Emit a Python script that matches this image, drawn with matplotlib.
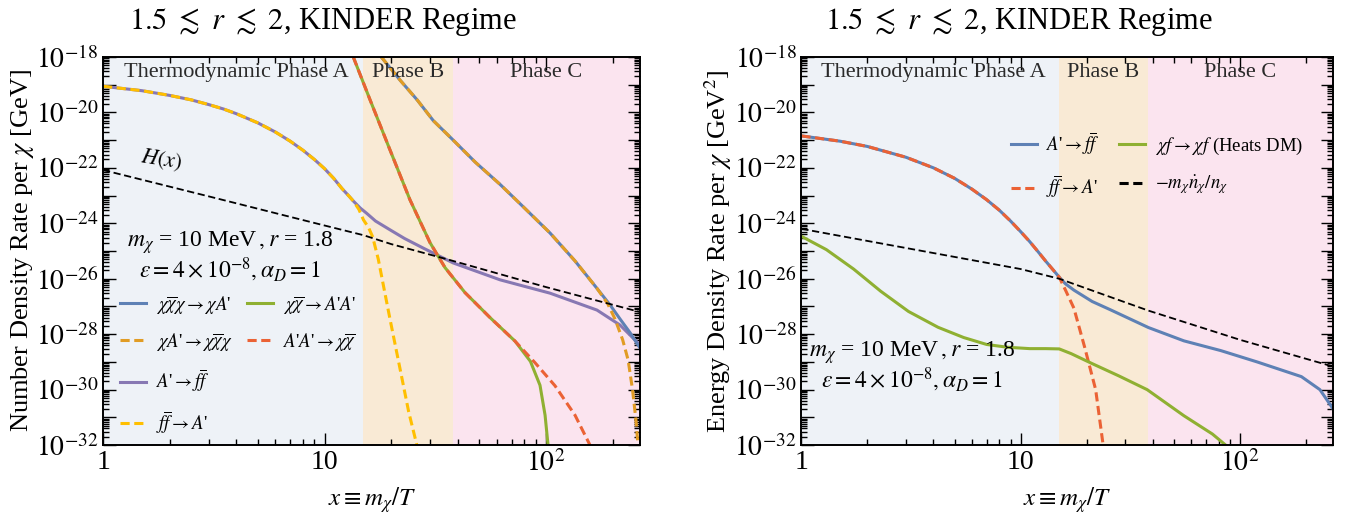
import numpy as np
import matplotlib
matplotlib.use("Agg")
import matplotlib.pyplot as plt
from matplotlib.lines import Line2D

plt.rcParams['font.family'] = ['Liberation Serif', 'DejaVu Serif']
plt.rcParams['mathtext.fontset'] = 'stix'

# ---- data (log10 of rate) ----
# left panel: number density rates
x_purple = [1, 1.5, 2, 2.5, 3, 3.5, 4, 5, 6, 7, 8, 9, 10, 11, 12, 13, 13.5, 14.5, 15.5, 17, 19.8,
            23, 28, 38.1, 62.1, 104.3, 170, 216, 266]
y_purple = [-19.06, -19.22, -19.39, -19.55, -19.72, -19.88, -20.05, -20.38, -20.71, -21.04, -21.37,
            -21.7, -22.03, -22.38, -22.75, -23.05, -23.2, -23.45, -23.64, -23.92, -24.24,
            -24.55, -24.9, -25.43, -26.04, -26.52, -27.13, -27.67, -28.39]
x_yellow = [1, 1.5, 2, 2.5, 3, 3.5, 4, 5, 6, 7, 8, 9, 10, 11, 12, 13, 13.5, 14.3, 15, 15.8, 16.5,
            17.5, 18.5, 19.8, 22, 24, 26.5]
y_yellow = [-19.06, -19.22, -19.39, -19.55, -19.72, -19.88, -20.05, -20.38, -20.71, -21.04, -21.37,
            -21.7, -22.03, -22.38, -22.75, -23.05, -23.2, -23.5, -23.88, -24.15, -24.49,
            -25.3, -26.29, -27.49, -29.3, -30.8, -32.2]
x_hubble = [1, 3, 10, 15, 20, 37, 100, 266]
y_hubble = [-22.08, -23.03, -24.08, -24.43, -24.75, -25.33, -26.3, -27.2]
x_blue = [18.03, 22, 26.2, 31, 38.1, 48, 62.1, 80, 104.3, 135, 170.1, 195, 216, 240, 265.9]
y_blue = [-18.0, -18.85, -19.55, -20.3, -21.0, -21.8, -22.6, -23.45, -24.35, -25.35, -26.35,
          -26.95, -27.45, -27.95, -28.5]
x_orange = [18.03, 22, 26.2, 31, 38.1, 48, 62.1, 80, 104.3, 135, 170.1, 190, 205, 222, 235, 246, 255, 261]
y_orange = [-18.0, -18.85, -19.55, -20.3, -21.0, -21.8, -22.6, -23.45, -24.35, -25.35, -26.35,
            -26.9, -27.45, -28.2, -28.93, -30.0, -31.1, -32.1]
x_red = [13.48, 16.06, 19.77, 24.34, 29.96, 35.02, 43.1, 55.9, 72.5, 89.3, 109.9, 135.3, 158.1]
y_red = [-18.0, -19.55, -21.36, -23.16, -24.7, -25.6, -26.5, -27.4, -28.25, -29.03, -29.86,
         -30.92, -32.0]
x_green = [13.48, 16.06, 19.77, 24.34, 29.96, 35.02, 43.1, 55.9, 72.5, 85.1, 94.0, 99.1, 102.2]
y_green = [-18.0, -19.55, -21.36, -23.16, -24.7, -25.6, -26.5, -27.4, -28.25, -28.98, -29.84,
           -30.92, -32.0]

# right panel: energy density rates
x_e_blue = [1, 1.5, 2, 3, 4, 5, 6, 7, 8, 9, 10, 11, 12, 13, 14, 15, 16, 17.5, 21.2, 25.7, 38.3,
            55.6, 81.8, 120, 191, 232, 270]
y_e_blue = [-20.85, -21.04, -21.23, -21.62, -22.0, -22.38, -22.77, -23.15, -23.53, -23.92, -24.3,
            -24.66, -25.02, -25.36, -25.66, -25.94, -26.18, -26.41, -26.82, -27.12, -27.76,
            -28.24, -28.59, -29.0, -29.53, -30.0, -30.76]
x_e_red = [1, 1.5, 2, 3, 4, 5, 6, 7, 8, 9, 10, 11, 12, 13, 14, 15, 16, 17.5, 19.6, 22, 23.8]
y_e_red = [-20.85, -21.04, -21.23, -21.62, -22.0, -22.38, -22.77, -23.15, -23.53, -23.92, -24.3,
           -24.66, -25.02, -25.36, -25.66, -25.94, -26.4, -27.06, -28.47, -30.0, -32.0]
x_e_green = [1, 1.3, 1.73, 2.3, 3.08, 4.2, 5.5, 7, 8.7, 11, 13, 15, 17, 21.2, 28, 37.8, 55.6, 75, 91.8]
y_e_green = [-24.47, -24.95, -25.65, -26.45, -27.18, -27.75, -28.12, -28.37, -28.47, -28.52,
             -28.52, -28.53, -28.7, -29.06, -29.5, -30.0, -30.94, -31.6, -32.18]
x_e_black = [1, 10, 15, 38.3, 100, 270]
y_e_black = [-24.2, -25.65, -26.0, -27.15, -28.2, -29.18]

phase_edges = [1, 15, 38, 266]
phase_names = ["Thermodynamic Phase A", "Phase B", "Phase C"]
phase_colors = ["#eef2f7", "#f9ead5", "#fbe4ef"]

c_blue, c_orange, c_green, c_red, c_purple, c_yellow = "#5E81B5", "#E19C24", "#8FB032", "#EB6235", "#8778B3", "#FFBF00"
dash = (0, (3, 1.5))
lw = 2.2


def p(v):
    return 10.0 ** np.asarray(v)


def setup(ax):
    for i in range(3):
        ax.axvspan(phase_edges[i], phase_edges[i + 1], color=phase_colors[i], lw=0, zorder=0)
    ax.set_xscale('log')
    ax.set_yscale('log')
    ax.set_xlim(1, 266)
    ax.set_ylim(1e-32, 1e-18)
    ax.set_xticks([1, 10, 100])
    ax.set_xticklabels(["1", "10", r"$10^2$"])
    ax.set_yticks([10.0 ** k for k in range(-32, -17)])
    ax.set_yticklabels([r"$10^{%d}$" % k if k % 2 == 0 else "" for k in range(-32, -17)])
    ax.yaxis.set_minor_locator(matplotlib.ticker.LogLocator(base=10, subs=np.arange(2, 10), numticks=100))
    ax.yaxis.set_minor_formatter(matplotlib.ticker.NullFormatter())
    ax.tick_params(which='both', direction='in', top=True, right=True, labelsize=20, width=1.0)
    ax.tick_params(which='major', length=9)
    ax.tick_params(which='minor', length=4)
    for s in ax.spines.values():
        s.set_linewidth(1.4)
    ax.set_xlabel(r"$x \equiv m_\chi/T$", fontsize=18, labelpad=6)
    ax.set_title(r"$1.5\ \lesssim\ r\ \lesssim\ 2$, KINDER Regime", fontsize=22, pad=20, x=0.41)
    xc = [np.sqrt(phase_edges[i] * phase_edges[i + 1]) for i in range(3)]
    xc[0] = 4.0
    for i in range(3):
        ax.text(xc[i], 10 ** -18.55, phase_names[i], ha='center', va='center', fontsize=16, color='#2a2a2a')


fig = plt.figure(figsize=(13.56, 5.17), dpi=100)
ax1 = fig.add_axes([0.076, 0.139, 0.396, 0.751])
ax2 = fig.add_axes([0.591, 0.139, 0.392, 0.751])

# ---- left panel ----
setup(ax1)
ax1.plot(x_purple, p(y_purple), color=c_purple, lw=lw)
ax1.plot(x_yellow, p(y_yellow), color=c_yellow, lw=lw, ls=dash)
ax1.plot(x_blue, p(y_blue), color=c_blue, lw=lw)
ax1.plot(x_orange, p(y_orange), color=c_orange, lw=lw, ls=dash)
ax1.plot(x_green, p(y_green), color=c_green, lw=lw)
ax1.plot(x_red, p(y_red), color=c_red, lw=lw, ls=dash)
ax1.plot(x_hubble, p(y_hubble), color='black', lw=1.3, ls=(0, (4, 2)))
ax1.text(1.84, 10 ** -21.72, r"$H(x)$", fontsize=16, rotation=-9, ha='center', va='center')
ax1.text(3.75, 10 ** -24.68, r"$m_\chi$ = 10 MeV$\,, r$ = 1.8", fontsize=17, ha='center', va='center')
ax1.text(3.75, 10 ** -25.69, r"$\epsilon = 4\times 10^{-8}, \alpha_D = 1$", fontsize=17, ha='center', va='center')
ax1.set_ylabel(r"Number Density Rate per $\chi$ [GeV]", fontsize=19, labelpad=0)

h = [Line2D([], [], color=c_blue, lw=lw),
     Line2D([], [], color=c_orange, lw=lw, ls=dash),
     Line2D([], [], color=c_purple, lw=lw),
     Line2D([], [], color=c_yellow, lw=lw, ls=dash),
     Line2D([], [], color=c_green, lw=lw),
     Line2D([], [], color=c_red, lw=lw, ls=dash),
     Line2D([], [], lw=0),
     Line2D([], [], lw=0)]
lab = [r"$\chi\overline{\chi}\chi \to \chi A$'", r"$\chi A$'$\to \chi\overline{\chi}\chi$", r"$A$'$\to f\overline{f}$",
       r"$f\overline{f} \to A$'", r"$\chi\overline{\chi} \to A$'$A$'", r"$A$'$A$'$\to \chi\overline{\chi}$", "", ""]
ax1.legend(h, lab, ncol=2, loc='lower left', bbox_to_anchor=(0.0, -0.02), frameon=False, fontsize=13.5,
           handlelength=1.4, handletextpad=0.5, labelspacing=0.8, columnspacing=0.8)

# ---- right panel ----
setup(ax2)
ax2.plot(x_e_blue, p(y_e_blue), color=c_blue, lw=lw)
ax2.plot(x_e_red, p(y_e_red), color=c_red, lw=lw, ls=dash)
ax2.plot(x_e_green, p(y_e_green), color=c_green, lw=lw)
ax2.plot(x_e_black, p(y_e_black), color='black', lw=1.3, ls=(0, (4, 2)))
ax2.text(3.2, 10 ** -28.65, r"$m_\chi$ = 10 MeV$\,, r$ = 1.8", fontsize=17, ha='center', va='center')
ax2.text(3.2, 10 ** -29.66, r"$\epsilon = 4\times 10^{-8}, \alpha_D = 1$", fontsize=17, ha='center', va='center')
ax2.set_ylabel(r"Energy Density Rate per $\chi$ [GeV$^2$]", fontsize=19, labelpad=0)
h2 = [Line2D([], [], color=c_blue, lw=lw),
      Line2D([], [], color=c_red, lw=lw, ls=dash),
      Line2D([], [], color=c_green, lw=lw),
      Line2D([], [], color='black', lw=lw, ls=dash)]
lab2 = [r"$A$'$\to f\overline{f}$", r"$f\overline{f} \to A$'", r"$\chi f \to \chi f$ (Heats DM)",
        r"$-m_\chi \dot{n}_\chi / n_\chi$"]
ax2.legend(h2, lab2, ncol=2, loc='upper right', bbox_to_anchor=(0.975, 0.855), frameon=False, fontsize=13.5,
           handlelength=1.4, handletextpad=0.5, labelspacing=0.9, columnspacing=1.0)

fig.savefig("out.png", dpi=100)
